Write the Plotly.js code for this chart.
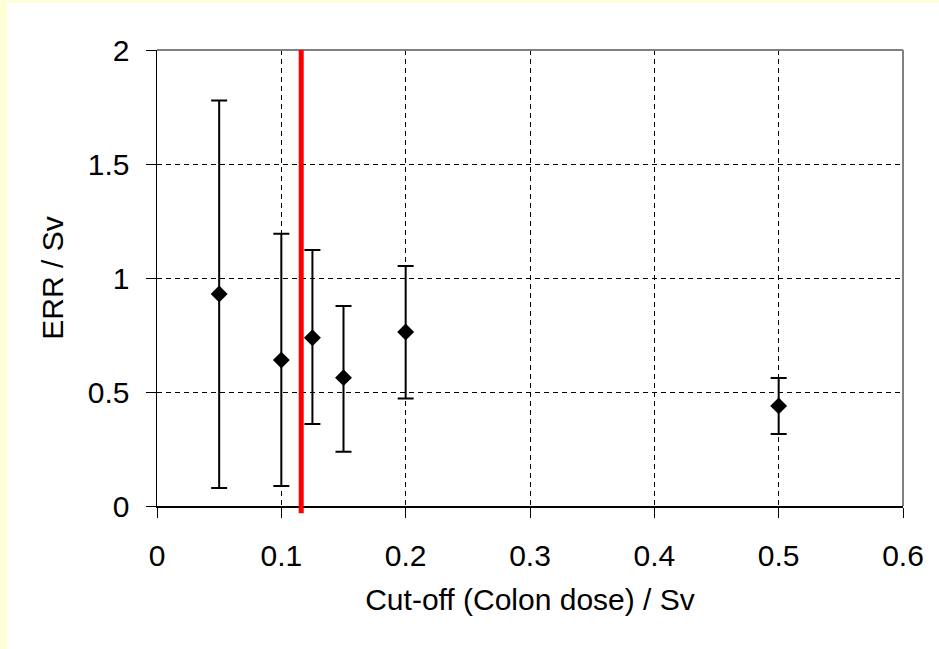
<!DOCTYPE html>
<html>
<head>
<meta charset="utf-8">
<script src="https://cdn.plot.ly/plotly-3.0.1.min.js"></script>
<style>
  html, body { margin: 0; padding: 0; background: #FFFFD6; width: 939px; height: 649px; overflow: hidden; }
  #chart { position: absolute; left: 7px; top: 3px; width: 932px; height: 646px; background: #fff; }
</style>
</head>
<body>
<div id="chart"></div>
<script>
// Data
const cutoff = [0.05, 0.1, 0.125, 0.15, 0.2, 0.5];
const err = [0.93, 0.64, 0.738, 0.563, 0.763, 0.439];
const upper = [1.779, 1.194, 1.123, 0.877, 1.053, 0.561];
const lower = [0.079, 0.088, 0.360, 0.238, 0.472, 0.316];
const redLineX = 0.116;
const xTickVals = [0, 0.1, 0.2, 0.3, 0.4, 0.5, 0.6];
const xTickText = ["0", "0.1", "0.2", "0.3", "0.4", "0.5", "0.6"];
const yTickVals = [0, 0.5, 1, 1.5, 2];
const yTickText = ["0", "0.5", "1", "1.5", "2"];

const plus = upper.map((u, i) => u - err[i]);
const minus = lower.map((l, i) => err[i] - l);

const font = { family: "Liberation Sans, Arial, sans-serif", size: 30, color: "#000" };

const trace = {
  x: cutoff, y: err, type: "scatter", mode: "markers",
  marker: { symbol: "diamond", size: 13, color: "#000" },
  error_y: { type: "data", symmetric: false, array: plus, arrayminus: minus,
             color: "#000", thickness: 2, width: 8 },
  showlegend: false, hoverinfo: "x+y"
};

const layout = {
  width: 932, height: 646,
  margin: { l: 150, r: 36, t: 47, b: 143, pad: 0 },
  paper_bgcolor: "#fff", plot_bgcolor: "#fff",
  font: font,
  showlegend: false,
  xaxis: {
    range: [0, 0.6], tickmode: "array", tickvals: xTickVals, ticktext: xTickText,
    showline: true, linecolor: "#000", linewidth: 1.5,
    ticks: "outside", ticklen: 10, tickcolor: "#000", tickwidth: 1,
    showgrid: true, gridcolor: "#000", gridwidth: 1, griddash: "5px,4px",
    zeroline: false, ticklabelstandoff: 12,
    title: { text: "Cut-off (Colon dose) / Sv", font: font, standoff: 18 },
    automargin: false, fixedrange: true
  },
  yaxis: {
    range: [0, 2], tickmode: "array", tickvals: yTickVals, ticktext: yTickText,
    showline: true, linecolor: "#000", linewidth: 1.5,
    ticks: "outside", ticklen: 10, tickcolor: "#000", tickwidth: 1,
    showgrid: true, gridcolor: "#000", gridwidth: 1, griddash: "5px,4px",
    zeroline: false, ticklabelstandoff: 10,
    title: { text: "ERR / Sv", font: font, standoff: 15 },
    automargin: false, fixedrange: true
  },
  shapes: [
    { type: "line", xref: "paper", yref: "paper", x0: 0, x1: 1, y0: 1, y1: 1,
      line: { color: "#808080", width: 2 }, layer: "above" },
    { type: "line", xref: "paper", yref: "paper", x0: 1, x1: 1, y0: 0, y1: 1,
      line: { color: "#808080", width: 2 }, layer: "above" },
    { type: "line", xref: "x", yref: "paper", x0: redLineX, x1: redLineX, y0: -0.016, y1: 1,
      line: { color: "#FF0000", width: 5 }, layer: "above" }
  ]
};

Plotly.newPlot("chart", [trace], layout, { displayModeBar: false, staticPlot: true });
</script>
</body>
</html>
